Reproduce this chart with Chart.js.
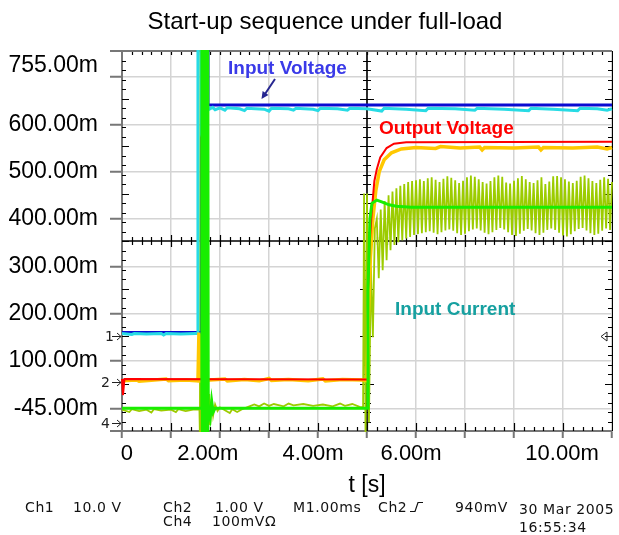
<!doctype html>
<html lang="en">
<head>
<meta charset="utf-8">
<title>Start-up sequence under full-load</title>
<script src="https://cdn.jsdelivr.net/npm/chart.js@4.4.1/dist/chart.umd.min.js"></script>
<style>
    html, body { margin: 0; padding: 0; background: #fff; }
</style>
</head>
<body>
<canvas id="scope" width="619" height="535"></canvas>

<script>
// time in ms, values in mV as printed on the scope axis
const xDivisions = [0, 1, 2, 3, 4, 5, 6, 7, 8, 9, 10];
const xTickValues = [0.1, 1.75, 3.9, 5.9, 8.98];
const xTickLabels = ['0', '2.00m', '4.00m', '6.00m', '10.00m'];
const yTickValues = [0, 100, 200, 300, 400, 500, 600, 700, 725];
const yTickLabels = ['-45.00m', '100.00m', '200.00m', '300.00m', '400.00m', '500.00m', '600.00m', '', '755.00m'];

// Ch1 (cyan) and the input voltage reference (blue)
const ch1Cyan = [[0,158],[0.2,156],[0.25,158],[0.5,157],[0.8,158],[0.85,155],[0.9,158],[1.2,157],[1.5,158],[1.54,158],
    [1.55,900],[1.61,900],[1.625,592],[1.65,600],[1.68,655],[1.71,626],[1.74,640],[1.78,632],[1.85,636],[1.9,631],
    [2.0,635],[2.1,630],[2.15,635],[2.4,633],[2.5,629],[2.55,634],[2.9,632],[3.0,628],[3.05,634],[3.4,633],[3.5,630],
    [3.55,634],[3.9,632],[4.0,629],[4.05,634],[4.4,633],[4.6,630],[4.65,634],[5.0,633],[5.3,628],[5.35,634],[5.8,632],
    [6.2,629],[6.25,634],[6.8,633],[7.2,630],[7.25,634],[7.8,632],[8.3,629],[8.35,634],[8.8,632],[9.3,629],[9.35,634],
    [9.7,633],[9.9,630],[10,633]];
const inputVoltage = [[0,160],[1.63,160],[1.64,900],[1.74,900],[1.755,641],[10,641]];

// Ch2 (orange) and the output voltage (red)
const outputVoltage = [[0,62],[0.02,28],[0.05,62],[5.0,61],[5.02,250],[5.05,340],[5.1,420],[5.15,480],[5.2,505],
    [5.27,530],[5.4,550],[5.55,559],[5.8,562],[10,563]];
const ch2Orange = [[0,58],[0.3,60],[0.35,57],[0.6,59],[0.9,62],[0.95,58],[1.3,60],[1.55,58],[1.57,160],[1.59,58],
    [1.8,60],[2.1,62],[2.15,58],[2.5,61],[2.8,58],[3.0,63],[3.05,59],[3.4,61],[3.8,58],[4.1,62],[4.15,58],[4.5,61],
    [4.9,60],[5.0,58],[5.03,200],[5.07,320],[5.12,400],[5.18,460],[5.25,500],[5.35,525],[5.5,540],[5.7,548],[6.0,551],
    [6.4,549],[6.5,553],[6.9,550],[7.3,552],[7.35,546],[7.4,551],[8.0,550],[8.5,552],[8.55,546],[8.6,551],[9.2,550],
    [9.7,552],[9.9,548],[10,551]];

// Ch4 (bright green)
const ch4Green = [[0,0],[1.625,0],[1.63,900],[1.645,-200],[1.66,900],[1.675,-200],[1.69,900],[1.705,-200],[1.72,900],
    [1.735,-200],[1.75,900],[1.76,0],[1.8,-20],[1.83,15],[1.86,-8],[1.9,0],[5.0,0],[5.02,250],[5.06,400],[5.1,433],
    [5.2,440],[5.3,436],[5.45,430],[5.6,427],[5.9,425],[10,425]];

// input current (olive): start-up part, then the ripple peaks / troughs every 0.08 ms from 5.2 ms
const currentStart = [[0,-3],[0.15,-8],[0.2,-2],[0.35,-6],[0.5,-3],[0.6,-9],[0.65,-2],[0.8,-5],[1.0,-3],[1.1,-8],
    [1.15,-2],[1.3,-6],[1.45,-3],[1.58,-2],[1.59,-60],[1.6,900],[1.62,-100],[1.76,-40],[1.78,30],[1.8,-35],[1.83,20],
    [1.86,-15],[1.9,8],[1.95,-6],[2.0,2],[2.1,-4],[2.2,-10],[2.25,-2],[2.35,-8],[2.45,-2],[2.6,4],[2.7,8],[2.8,4],
    [2.9,10],[3.0,5],[3.1,9],[3.3,4],[3.4,10],[3.5,6],[3.7,9],[3.9,5],[4.1,8],[4.3,4],[4.45,10],[4.55,5],[4.7,9],
    [4.85,3],[4.92,2],[4.94,454],[4.97,-60],[5.0,454],[5.04,-30],[5.08,300],[5.12,150],[5.16,380]];
const rippleStart = 5.2;
const ripplePeriod = 0.08;
const ripplePeaks = [400,420,438,450,458,465,470,474,478,480,482,484,480,486,488,483,478,485,490,487,482,476,481,488,
    492,489,484,478,475,480,488,492,489,477,475,481,486,491,484,478,476,482,488,474,479,490,491,488,484,479,476,481,
    489,492,486,480,476,483,488,485,478];
const rippleTroughs = [275,292,313,334,345,351,355,359,362,366,368,370,372,374,371,368,372,376,378,375,370,366,369,
    374,378,380,376,371,368,372,377,381,378,372,366,364,369,375,379,376,370,366,371,377,380,377,371,365,363,368,374,
    379,381,376,370,366,369,375,380,377,372];

function pts(list) {
    return list.map(function (p) { return {x: p[0], y: p[1]}; });
}

let inputCurrent = pts(currentStart);
ripplePeaks.forEach(function (peak, i) {
    const t = rippleStart + i * ripplePeriod;
    if (t <= 10) inputCurrent.push({x: t, y: peak});
    if (t + ripplePeriod / 2 <= 10) inputCurrent.push({x: t + ripplePeriod / 2, y: rippleTroughs[i]});
});

const sans = '"Liberation Sans", Arial, sans-serif';
const scopeFont = '"DejaVu Sans", Verdana, sans-serif';

// oscilloscope graticule: centre cross and division ticks
const graticule = {
    id: 'graticule',
    beforeDatasetsDraw(chart) {
        const ctx = chart.ctx, a = chart.chartArea;
        const dx = (a.right - a.left) / 10, dy = (a.bottom - a.top) / 8;
        const cx = a.left + dx * 5, cy = a.top + dy * 4;
        ctx.save();
        ctx.strokeStyle = '#000';
        ctx.lineWidth = 1.6;
        ctx.beginPath();
        ctx.moveTo(a.left, cy); ctx.lineTo(a.right, cy);
        ctx.moveTo(cx, a.top); ctx.lineTo(cx, a.bottom);
        ctx.stroke();
        ctx.lineWidth = 1.2;
        ctx.beginPath();
        for (let i = 1; i < 50; i++) {
            const x = Math.round(a.left + i * dx / 5) + 0.5;
            const big = i % 5 === 0;
            ctx.moveTo(x, cy - (big ? 6 : 4)); ctx.lineTo(x, cy + (big ? 6 : 4));
            ctx.moveTo(x, a.top); ctx.lineTo(x, a.top + 4);
            ctx.moveTo(x, a.bottom); ctx.lineTo(x, a.bottom - (big ? 8 : 4));
        }
        for (let i = 1; i < 40; i++) {
            const y = Math.round(a.top + i * dy / 5) + 0.5;
            const h = i % 5 === 0 ? 7 : 4;
            ctx.moveTo(cx - h, y); ctx.lineTo(cx + h, y);
            ctx.moveTo(a.left, y); ctx.lineTo(a.left + h, y);
            ctx.moveTo(a.right, y); ctx.lineTo(a.right - h, y);
        }
        ctx.stroke();
        // frame: top and right, plus the short outer ticks at top and bottom
        ctx.strokeStyle = '#777';
        ctx.lineWidth = 2;
        ctx.beginPath();
        ctx.moveTo(a.left - 12, a.top); ctx.lineTo(a.right, a.top);
        ctx.moveTo(a.left - 12, a.bottom); ctx.lineTo(a.left, a.bottom);
        ctx.stroke();
        ctx.strokeStyle = '#000';
        ctx.lineWidth = 1;
        ctx.beginPath();
        ctx.moveTo(a.right + 0.5, a.top); ctx.lineTo(a.right + 0.5, a.bottom);
        ctx.stroke();
        ctx.restore();
    }
};

function arrowHead(ctx, x, y, ang, len) {
    ctx.beginPath();
    ctx.moveTo(x, y);
    ctx.lineTo(x - len * Math.cos(ang - 0.45), y - len * Math.sin(ang - 0.45));
    ctx.lineTo(x - len * Math.cos(ang + 0.45), y - len * Math.sin(ang + 0.45));
    ctx.closePath();
    ctx.fill();
}

const labels = {
    id: 'labels',
    afterDatasetsDraw(chart) {
        const ctx = chart.ctx;
        ctx.save();
        ctx.textBaseline = 'alphabetic';
        ctx.textAlign = 'left';
        ctx.font = 'bold 19px ' + sans;
        ctx.fillStyle = '#3a3ae8';
        ctx.fillText('Input Voltage', 228, 73.5);
        ctx.fillStyle = '#ff0000';
        ctx.fillText('Output Voltage', 379, 133.5);
        ctx.fillStyle = '#16a0a0';
        ctx.fillText('Input Current', 395, 315);

        // arrow to the input voltage trace
        ctx.strokeStyle = '#262690';
        ctx.fillStyle = '#262690';
        ctx.lineWidth = 2;
        ctx.beginPath();
        ctx.moveTo(275, 79); ctx.lineTo(265, 94);
        ctx.stroke();
        arrowHead(ctx, 261.5, 99, Math.atan2(20, -13.5), 8);

        // channel ground markers
        ctx.font = '14px ' + scopeFont;
        ctx.fillStyle = '#222';
        ctx.strokeStyle = '#222';
        ctx.lineWidth = 1;
        [['1', 105, 336], ['2', 101, 382], ['4', 101, 423]].forEach(function (m) {
            ctx.fillText(m[0], m[1], m[2] + 5);
            ctx.beginPath();
            ctx.moveTo(112, m[2] + 0.5); ctx.lineTo(121, m[2] + 0.5);
            ctx.moveTo(117, m[2] - 3); ctx.lineTo(121, m[2] + 0.5); ctx.lineTo(117, m[2] + 4);
            ctx.stroke();
        });
        // trigger level marker on the right edge
        ctx.beginPath();
        ctx.moveTo(601, 336.5); ctx.lineTo(607, 332); ctx.lineTo(607, 341); ctx.closePath();
        ctx.moveTo(607, 336.5); ctx.lineTo(612, 336.5);
        ctx.stroke();
        ctx.restore();
    },
    afterDraw(chart) {
        const ctx = chart.ctx;
        ctx.save();
        ctx.fillStyle = '#000';
        ctx.textAlign = 'center';
        ctx.textBaseline = 'alphabetic';
        ctx.font = '24px ' + sans;
        ctx.fillText('Start-up sequence under full-load', 325, 28.5);

        ctx.textAlign = 'left';
        ctx.font = '14px ' + scopeFont;
        ctx.letterSpacing = '0.6px';
        ctx.fillStyle = '#111';
        [['Ch1', 25, 512], ['10.0 V', 73, 512], ['Ch2', 163, 512], ['1.00 V', 215, 512], ['M1.00ms', 293, 512],
            ['Ch2', 378, 512], ['940mV', 455, 512], ['30 Mar 2005', 519, 514], ['Ch4', 163, 526],
            ['100mV\u03A9', 212, 526], ['16:55:34', 519, 532]].forEach(function (s) {
            ctx.fillText(s[0], s[1], s[2]);
        });
        // rising edge trigger symbol
        ctx.strokeStyle = '#111';
        ctx.lineWidth = 1.2;
        ctx.beginPath();
        ctx.moveTo(410, 511.5); ctx.lineTo(415, 511.5); ctx.lineTo(418, 502.5); ctx.lineTo(423, 502.5);
        ctx.stroke();
        ctx.restore();
    }
};

function trace(data, color, width) {
    return {
        data: data,
        borderColor: color,
        borderWidth: width,
        pointRadius: 0,
        tension: 0,
        fill: false,
        clip: 1,
    };
}

const chart = new Chart(document.getElementById('scope'), {
    type: 'line',
    data: {
        datasets: [
            trace(pts(ch4Green), '#18ee00', 3),
            trace(pts(outputVoltage), '#ff0000', 2),
            trace(pts(ch2Orange), '#ffc800', 3.5),
            trace(pts(ch1Cyan), '#27dbe4', 3),
            trace(pts(inputVoltage), '#0a0ad2', 3),
            trace(inputCurrent, '#9ccc00', 1.8),
        ],
    },
    options: {
        responsive: false,
        animation: false,
        events: [],
        layout: {padding: {top: 51, right: 7, left: 0, bottom: 0}},
        plugins: {
            legend: {display: false},
            tooltip: {enabled: false},
            title: {display: false},
        },
        scales: {
            x: {
                type: 'linear',
                min: 0,
                max: 10,
                afterBuildTicks: function (scale) {
                    scale.ticks = xDivisions.concat(xTickValues).sort(function (a, b) { return a - b; })
                        .map(function (v) { return {value: v}; });
                },
                afterFit: function (scale) { scale.height = 104; },
                ticks: {
                    autoSkip: false,
                    maxRotation: 0,
                    padding: 3,
                    color: '#000',
                    font: {family: sans, size: 22},
                    callback: function (value) {
                        const i = xTickValues.indexOf(value);
                        return i >= 0 ? xTickLabels[i] : '';
                    },
                },
                grid: {
                    color: function (c) { return xDivisions.indexOf(c.tick.value) >= 0 ? '#d4d4d4' : 'rgba(0,0,0,0)'; },
                    lineWidth: 1.5,
                    tickColor: function (c) { return xDivisions.indexOf(c.tick.value) >= 0 ? '#777' : 'rgba(0,0,0,0)'; },
                    tickLength: 7,
                    tickWidth: 2,
                },
                border: {display: true, color: '#777', width: 2},
                title: {
                    display: true,
                    text: 't [s]',
                    color: '#000',
                    font: {family: sans, size: 23, lineHeight: 1.2},
                    padding: {top: 0, bottom: 36},
                },
            },
            y: {
                type: 'linear',
                min: -48,
                max: 755,
                afterBuildTicks: function (scale) {
                    scale.ticks = yTickValues.map(function (v) { return {value: v}; });
                },
                afterFit: function (scale) { scale.width = 122; },
                ticks: {
                    autoSkip: false,
                    padding: 12,
                    color: '#000',
                    font: {family: sans, size: 23},
                    callback: function (value) {
                        const i = yTickValues.indexOf(value);
                        return i >= 0 ? yTickLabels[i] : '';
                    },
                },
                grid: {
                    color: function (c) { return c.tick.value === 725 ? 'rgba(0,0,0,0)' : '#d4d4d4'; },
                    lineWidth: 1.5,
                    tickColor: function (c) { return c.tick.value === 725 ? 'rgba(0,0,0,0)' : '#777'; },
                    tickLength: 12,
                    tickWidth: 2,
                },
                border: {display: true, color: '#777', width: 2},
            },
        },
    },
    plugins: [graticule, labels],
});
</script>
</body>
</html>
